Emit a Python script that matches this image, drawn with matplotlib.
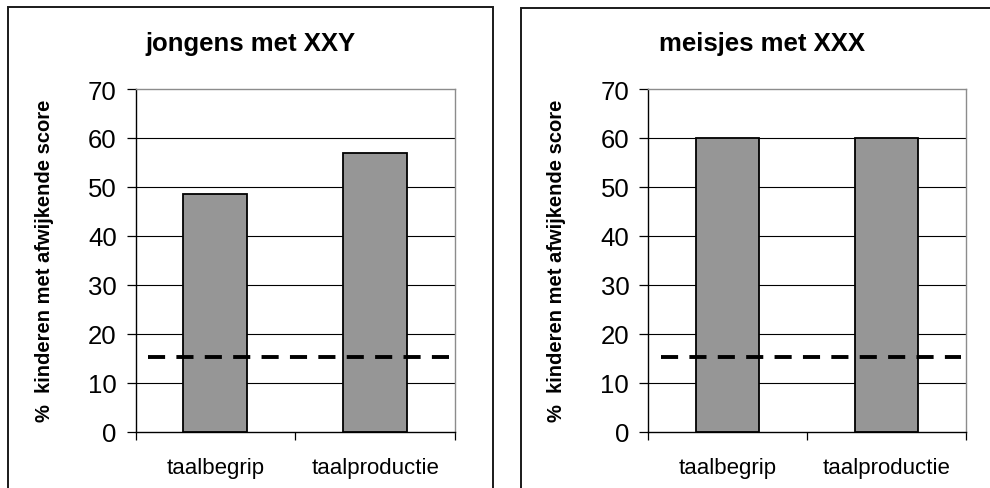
import matplotlib
matplotlib.use("Agg")
import matplotlib.pyplot as plt
from matplotlib.patches import Rectangle

# data
categories = ["taalbegrip", "taalproductie"]
titles = ["jongens met XXY", "meisjes met XXX"]
xxy_values = [48.5, 57.0]
xxx_values = [60.0, 60.0]
ref_level = 15.4          # dashed reference line (%)
ref_span = [-0.42, 1.47]  # x-extent of the dashed line in category units
yticks = [0, 10, 20, 30, 40, 50, 60, 70]
ylabel = "%  kinderen met afwijkende score"

plt.rcParams['font.family'] = ['Liberation Sans', 'DejaVu Sans']

W, H = 990, 489
fig = plt.figure(figsize=(W / 100, H / 100), dpi=100)
fig.patch.set_facecolor("white")

def fx(px):
    return px / W

def fy(py):
    return 1 - py / H

# panel frames (bottom edge runs off the image)
for x0, x1, ytop in [(7.5, 492.5, 7.5), (520.5, 1010, 8.5)]:
    fig.patches.append(Rectangle((fx(x0), fy(H + 20)), fx(x1) - fx(x0), fy(ytop) - fy(H + 20),
                                 transform=fig.transFigure, fill=False, edgecolor="#1a1a1a",
                                 linewidth=1.4, clip_on=False))

panels = [
    dict(values=xxy_values, title=titles[0], ax_x=(135.5, 455), title_x=250, ylab_x=45),
    dict(values=xxx_values, title=titles[1], ax_x=(648, 966), title_x=762, ylab_x=557),
]

for p in panels:
    x0, x1 = p["ax_x"]
    ax = fig.add_axes([fx(x0), fy(433), fx(x1) - fx(x0), fy(90) - fy(433)])
    xs = range(len(categories))
    ax.bar(xs, p["values"], width=0.4, color="#969696", edgecolor="black", linewidth=1.3, zorder=3)
    ax.hlines(yticks[1:-1], -0.5, 1.5, colors="black", linewidth=0.8, zorder=1)
    ax.plot(ref_span, [ref_level, ref_level], color="black", linewidth=2.8,
            dashes=(4.4, 2.9), zorder=4, clip_on=False)

    ax.set_xlim(-0.5, 1.5)
    ax.set_ylim(0, 70)
    ax.set_yticks(yticks)
    ax.set_xticks(list(xs))
    ax.set_xticklabels(categories, fontsize=16)
    ax.set_xticks([-0.5, 0.5, 1.5], minor=True)
    ax.tick_params(axis="x", which="major", length=0, pad=18)
    ax.tick_params(axis="x", which="minor", length=6, width=0.9, direction="out", color="black")
    ax.tick_params(axis="y", length=6.5, width=0.9, direction="out", pad=7, labelsize=18.5)

    for s in ["left", "bottom"]:
        ax.spines[s].set_color("black")
        ax.spines[s].set_linewidth(1.0)
    for s in ["top", "right"]:
        ax.spines[s].set_color("#8c8c8c")
        ax.spines[s].set_linewidth(1.0)

    fig.text(fx(p["title_x"]), fy(44), p["title"], ha="center", va="center",
             fontsize=18.5, fontweight="bold")
    fig.text(fx(p["ylab_x"]), fy(261), ylabel, ha="center", va="center",
             rotation=90, fontsize=14.5, fontweight="bold")

fig.savefig("out.png", dpi=100, facecolor="white")
